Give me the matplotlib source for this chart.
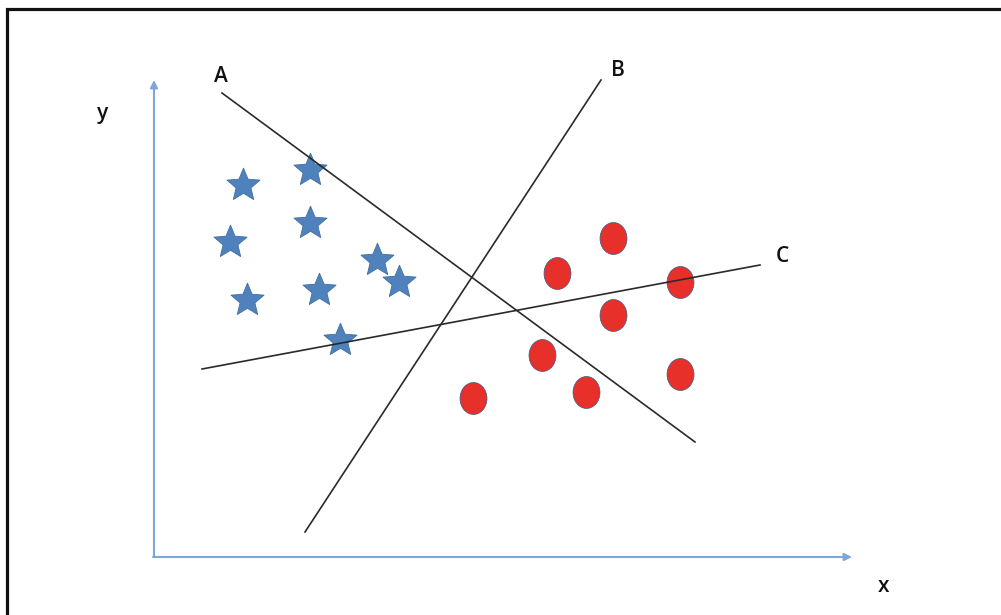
from matplotlib import pyplot as plt
from matplotlib.path import Path
from matplotlib.transforms import Affine2D

# blue stars (pixel positions, y grows downwards)
star_x = [243, 310, 230, 310, 377, 399, 247, 319, 340]
star_y = [185, 170, 242, 223, 260, 282, 300, 290, 340]

# red dots
dot_x = [613, 557, 680, 613, 542, 586, 680, 473]
dot_y = [238, 273, 282, 315, 355, 392, 374, 398]

# separating lines: name, start, end
line_names = ['A', 'B', 'C']
line_x0 = [222, 305, 202]
line_y0 = [93, 532, 369]
line_x1 = [695, 601, 760]
line_y1 = [442, 80, 265]
label_x = [221, 618, 782]
label_y = [76, 70, 257]

W, H = 1001, 615
fig = plt.figure(figsize=(W / 100, H / 100), dpi=100)
ax = fig.add_axes([0, 0, 1, 1])
ax.set_xlim(0, W)
ax.set_ylim(H, 0)
ax.axis('off')

plt.rcParams['font.family'] = ['Open Sans', 'DejaVu Sans']

# frame of the cropped slide (only top and left edges are visible)
ax.plot([6.5, 6.5, W], [H, 8.5, 8.5], color='#111111', lw=2.3, solid_joinstyle='miter')

# axes arrows
axis_col = '#7ea6dc'
ax.annotate('', xy=(154, 80), xytext=(154, 557),
            arrowprops=dict(arrowstyle='-|>', color=axis_col, lw=1.5, mutation_scale=11,
                            shrinkA=0, shrinkB=0))
ax.annotate('', xy=(852, 557), xytext=(153, 557),
            arrowprops=dict(arrowstyle='-|>', color=axis_col, lw=1.5, mutation_scale=11,
                            shrinkA=0, shrinkB=0))
ax.text(103, 113, 'y', fontsize=15, ha='center', va='center', color='#111111',
        fontweight='semibold')
ax.text(884, 587, 'x', fontsize=15, ha='center', va='center', color='#111111',
        fontweight='semibold')

# lines A, B, C
for i, name in enumerate(line_names):
    ax.plot([line_x0[i], line_x1[i]], [line_y0[i], line_y1[i]], color='#2a2a2a', lw=1.2,
            zorder=3)
    ax.text(label_x[i], label_y[i], name, fontsize=15, ha='center', va='center',
            color='#111111', fontweight='semibold')

# markers
ellipse = Path(Affine2D().scale(27 / 32, 1).transform(Path.unit_circle().vertices),
               Path.unit_circle().codes)
star = Path.unit_regular_star(5, innerCircle=0.45)
ax.plot(star_x, star_y, linestyle='none', marker=star, ms=25, mfc='#4f81bd',
        mec='#41719c', mew=0.6, zorder=2)
ax.plot(dot_x, dot_y, linestyle='none', marker=ellipse, ms=23, mfc='#e8302a',
        mec='#3a5a8c', mew=0.5, zorder=2)

fig.savefig('out.png', dpi=100)
